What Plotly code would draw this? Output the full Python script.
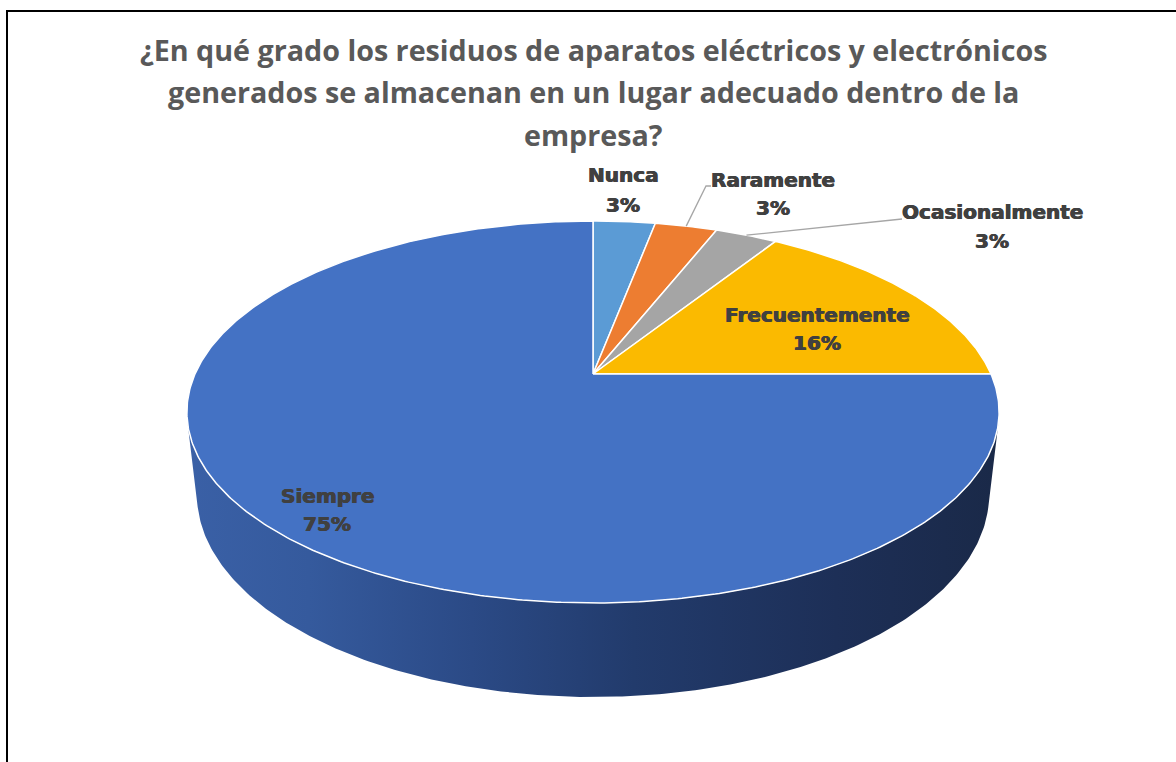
import numpy as np
import plotly.graph_objects as go

# Survey answers and their shares (%)
categories = ["Nunca", "Raramente", "Ocasionalmente", "Frecuentemente", "Siempre"]
percentages = [3, 3, 3, 16, 75]
slice_colors = ["#5B9BD5", "#ED7D31", "#A5A5A5", "#FBBA00", "#4472C4"]

title_lines = [
    "¿En qué grado los residuos de aparatos eléctricos y electrónicos",
    "generados se almacenan en un lugar adecuado dentro de la",
    "empresa?",
]

# ---- canvas / camera set-up -------------------------------------------
W, H = 1176, 762
CX, CY = 593, 374            # pixel position of the pie's centre
ELEV = np.radians(27.44)     # camera elevation
DIST = 4.46                  # camera distance (in pie radii)
FOCAL = 1775.0               # pixel scale
THICK = 0.2355               # pie thickness (in pie radii)
SA, CA = np.sin(ELEV), np.cos(ELEV)


def project(theta_deg, level=0.0, r=1.0):
    """Perspective projection of a point on the pie (angle clockwise from 12 o'clock)."""
    t = np.radians(np.asarray(theta_deg, dtype=float))
    X = r * np.sin(t)
    Z = r * np.cos(t)
    Y = level
    depth = DIST - Y * SA + Z * CA
    yc = Y * CA + Z * SA
    return X / depth, yc / depth


def px_to_data(x, y):
    return (x - CX) / FOCAL, (CY - y) / FOCAL


def px_to_paper(x, y):
    return x / W, 1 - y / H


fig = go.Figure()

# ---- side wall (visible front part) -------------------------------------
theta_sil = np.degrees(np.arccos(-1.0 / (DIST * CA)))
arc = np.linspace(theta_sil, 360 - theta_sil, 240)
tx, ty = project(arc, 0.0)
bx, by = project(arc[::-1], -THICK)
fig.add_trace(go.Scatter(
    x=np.concatenate([tx, bx, tx[:1]]),
    y=np.concatenate([ty, by, ty[:1]]),
    mode="lines", line=dict(width=0), fill="toself",
    fillgradient=dict(type="horizontal", colorscale=[
        [0.0, "#3A60A6"], [0.15, "#355A9D"], [0.35, "#2B4A86"],
        [0.55, "#223B6C"], [0.8, "#1D2F57"], [1.0, "#1A2948"]]),
    hoverinfo="skip", showlegend=False,
))

# ---- top face slices -------------------------------------------------------
bounds = np.concatenate([[0], np.cumsum(percentages)]) * 3.6
for name, a0, a1, col in zip(categories, bounds[:-1], bounds[1:], slice_colors):
    n = max(int((a1 - a0) / 0.5), 4)
    ang = np.linspace(a0, a1, n)
    sx, sy = project(ang, 0.0)
    fig.add_trace(go.Scatter(
        x=np.concatenate([[0], sx, [0]]),
        y=np.concatenate([[0], sy, [0]]),
        mode="lines", fill="toself", fillcolor=col,
        line=dict(color="white", width=1.5),
        name=name, hoverinfo="skip", showlegend=False,
    ))

# ---- data labels ---------------------------------------------------------
label_pos = {
    "Nunca": (623, 175, 205),
    "Raramente": (773, 180, 208),
    "Ocasionalmente": (992, 212, 241),
    "Frecuentemente": (817, 315, 343),
    "Siempre": (327, 496, 524),
}
leader_end = {
    "Raramente": [(706, 186), (711, 186)],
    "Ocasionalmente": [(898, 219), (902, 219)],
}
label_font = dict(family="DejaVu Sans", size=20, color="#404040", weight="bold",
                  shadow="0.6px 0 0 #404040, -0.4px 0 0 #404040")
for name, pct, a0, a1 in zip(categories, percentages, bounds[:-1], bounds[1:]):
    lx, ly1, ly2 = label_pos[name]
    for text, ly in ((name, ly1), (f"{pct}%", ly2)):
        xp, yp = px_to_paper(lx, ly)
        fig.add_annotation(x=xp, y=yp, xref="paper", yref="paper", text=text,
                           showarrow=False, xanchor="center", yanchor="middle",
                           font=label_font)
    if name in leader_end:
        mx, my = project((a0 + a1) / 2, 0.0)
        pts = [px_to_data(*p) for p in leader_end[name]]
        fig.add_trace(go.Scatter(
            x=[float(mx)] + [p[0] for p in pts],
            y=[float(my)] + [p[1] for p in pts],
            mode="lines", line=dict(color="#A6A6A6", width=1.3),
            hoverinfo="skip", showlegend=False,
        ))

# ---- title -------------------------------------------------------------
for line, ty_px in zip(title_lines, (50, 92, 134)):
    xp, yp = px_to_paper(594, ty_px)
    fig.add_annotation(x=xp, y=yp, xref="paper", yref="paper", text=line,
                       showarrow=False, xanchor="center", yanchor="middle",
                       font=dict(family="Open Sans", size=28.7, color="#595959", weight="bold"))

# ---- chart frame -------------------------------------------------------
fig.add_shape(type="rect", xref="paper", yref="paper",
              x0=7 / W, x1=1.02, y0=-0.02, y1=1 - 11 / H,
              line=dict(color="black", width=2), fillcolor="rgba(0,0,0,0)")

x0, _ = px_to_data(0, 0)
x1, _ = px_to_data(W, 0)
_, y_top = px_to_data(0, 0)
_, y_bot = px_to_data(0, H)
fig.update_xaxes(visible=False, range=[x0, x1], fixedrange=True)
fig.update_yaxes(visible=False, range=[y_bot, y_top], fixedrange=True)
fig.update_layout(
    width=W, height=H, margin=dict(l=0, r=0, t=0, b=0),
    paper_bgcolor="white", plot_bgcolor="white", showlegend=False,
)

fig.write_html("out.html")
